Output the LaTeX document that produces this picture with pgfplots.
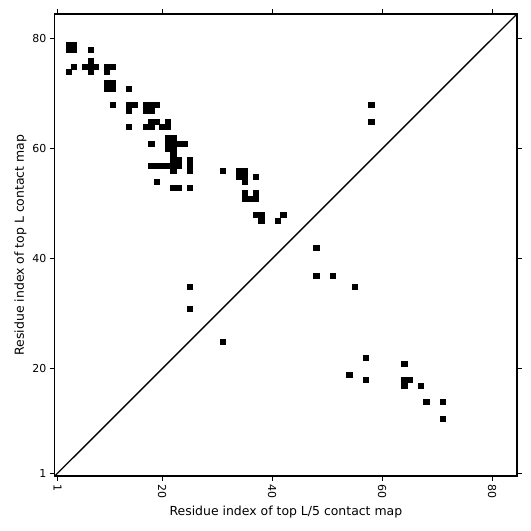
\documentclass[border=0pt]{standalone}
\usepackage{fontspec}
\setmainfont{DejaVu Sans}
\usepackage{pgfplots}
\pgfplotsset{compat=1.18}
\begin{document}
\begin{tikzpicture}
\useasboundingbox (0,0) rectangle (531bp,531bp);
\begin{axis}[
  at={(54.75bp,55bp)}, anchor=south west,
  scale only axis, width=462.25bp, height=462bp,
  xmin=0.5, xmax=84.5, ymin=0.5, ymax=84.5,
  xtick={1,20,40,60,80}, ytick={1,20,40,60,80},
  tick align=outside, major tick length=5bp,
  axis line style={line width=1.4bp},
  every tick/.style={black, line width=1bp},
  /pgf/number format/assume math mode=true,
  ticklabel style={font=\fontsize{11}{13}\selectfont},
  x tick label style={rotate=-90, anchor=west},
  xlabel={Residue index of top L/5 contact map},
  ylabel={Residue index of top L contact map},
  label style={font=\fontsize{12.5}{14}\selectfont},
  xlabel style={at={(axis description cs:0.5,0)}, anchor=base, yshift=-39bp},
  ylabel style={at={([xshift=-31bp]axis description cs:0,0.5)}, rotate=0, anchor=base},
]
\addplot[only marks, mark=square*, mark size=2.6bp, mark options={fill=black, draw=black, line width=0.3bp}] coordinates {
(3,78) (4,78) (3,79) (4,79)
(7,78)
(4,75) (3,74)
(7,76) (6,75) (7,75) (8,75) (7,74)
(10,75) (11,75) (10,74)
(10,71) (11,71) (10,72) (11,72)
(14,71)
(11,68)
(14,68) (15,68) (14,67)
(17,68) (18,68) (19,68) (17,67) (18,67)
(14,64)
(18,65) (19,65) (21,65)
(17,64) (18,64) (20,64) (21,64)
(18,61)
(21,60) (21,61) (21,62) (22,60) (22,61) (22,62)
(23,61) (24,61)
(22,59)
(22,58) (23,58)
(18,57) (19,57) (20,57) (21,57) (22,57) (23,57)
(22,56)
(25,56) (25,57) (25,58)
(19,54)
(22,53) (23,53) (25,53)
(31,56)
(34,55) (35,55) (34,56) (35,56) (35,54)
(37,55)
(35,52) (35,51) (36,51) (37,51) (37,52)
(37,48) (38,48) (38,47)
(41,47) (42,48)
(58,68) (58,65)
(25,35) (25,31) (31,25)
(48,42) (48,37) (51,37) (55,35)
(57,22) (64,21) (54,19) (57,18) (64,18) (65,18) (64,17) (67,17) (68,14) (71,14) (71,11)
};
\addplot[black, line width=1.4bp] coordinates {(0.5,0.5) (84.5,84.5)};
\end{axis}
\end{tikzpicture}
\end{document}
